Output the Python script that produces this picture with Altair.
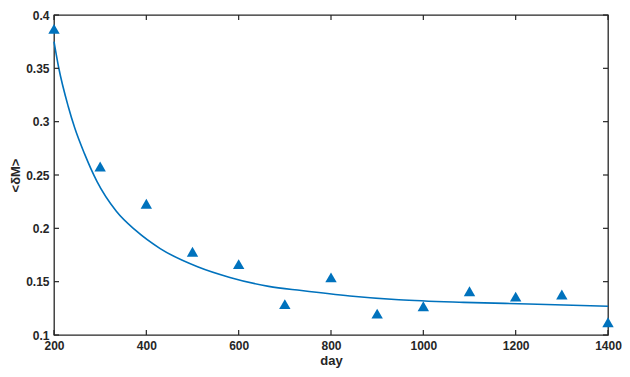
import altair as alt
import pandas as pd

# Measured points (triangles)
days = [200, 300, 400, 500, 600, 700, 800, 900, 1000, 1100, 1200, 1300, 1400]
dm = [0.387, 0.258, 0.223, 0.178, 0.1665, 0.129, 0.154, 0.120, 0.127, 0.141, 0.136, 0.138, 0.112]

# Fitted curve
fit_day = [200, 210, 231, 245, 266, 293, 335, 377, 430, 511, 581, 665, 736, 841, 947, 1087, 1228, 1400]
fit_dm = [0.375, 0.351, 0.314, 0.294, 0.270, 0.244, 0.216, 0.198, 0.181, 0.164, 0.154, 0.1456,
          0.1417, 0.1366, 0.1330, 0.1306, 0.1291, 0.1270]

x_ticks = [200, 400, 600, 800, 1000, 1200, 1400]
y_ticks = [0.1, 0.15, 0.2, 0.25, 0.3, 0.35, 0.4]

W, H = 554, 320
BLUE = "#0072BD"
AX = "#262626"
FONT = "Liberation Sans"

xs = alt.Scale(domain=[200, 1400], nice=False, zero=False)
ys = alt.Scale(domain=[0.1, 0.4], nice=False, zero=False)
x_axis = alt.Axis(values=x_ticks, format="d", title="day")
y_axis = alt.Axis(values=y_ticks, format="~g", title="<δM>")

pts = pd.DataFrame({"day": days, "dm": dm})
fit = pd.DataFrame({"day": fit_day, "dm": fit_dm})
xt = pd.DataFrame({"day": x_ticks})
yt = pd.DataFrame({"dm": y_ticks})

X = alt.X("day:Q", scale=xs, axis=x_axis)
Y = alt.Y("dm:Q", scale=ys, axis=y_axis)

line = alt.Chart(fit).mark_line(color=BLUE, strokeWidth=1.6, interpolate="monotone").encode(x=X, y=Y)
tri = alt.Chart(pts).mark_point(shape="triangle-up", filled=True, size=130, color=BLUE, opacity=1).encode(x=X, y=Y)

rule = dict(color=AX, strokeWidth=1.2)
bottom_t = alt.Chart(xt).mark_rule(**rule).encode(x=X, y=alt.value(H), y2=alt.value(H - 5))
top_t = alt.Chart(xt).mark_rule(**rule).encode(x=X, y=alt.value(0), y2=alt.value(5))
left_t = alt.Chart(yt).mark_rule(**rule).encode(y=Y, x=alt.value(0), x2=alt.value(5))
right_t = alt.Chart(yt).mark_rule(**rule).encode(y=Y, x=alt.value(W), x2=alt.value(W - 5))

chart = (
    alt.layer(line, tri, bottom_t, top_t, left_t, right_t)
    .properties(
        width=W, height=H,
        autosize=alt.AutoSizeParams(type="none"),
        padding={"left": 46, "top": 7, "right": 14, "bottom": 34},
    )
    .configure_view(stroke=AX, strokeWidth=1.3)
    .configure_axis(
        domain=False, ticks=False, grid=False, labelFlush=False,
        labelFont=FONT, labelFontWeight="bold", labelFontSize=12, labelColor=AX, labelPadding=5,
        titleFont=FONT, titleFontWeight="bold", titleFontSize=13, titleColor=AX,
    )
    .configure_axisX(titlePadding=3)
    .configure_axisY(titlePadding=3)
)

chart.save("out.html", embed_options={"renderer": "svg", "actions": False})
